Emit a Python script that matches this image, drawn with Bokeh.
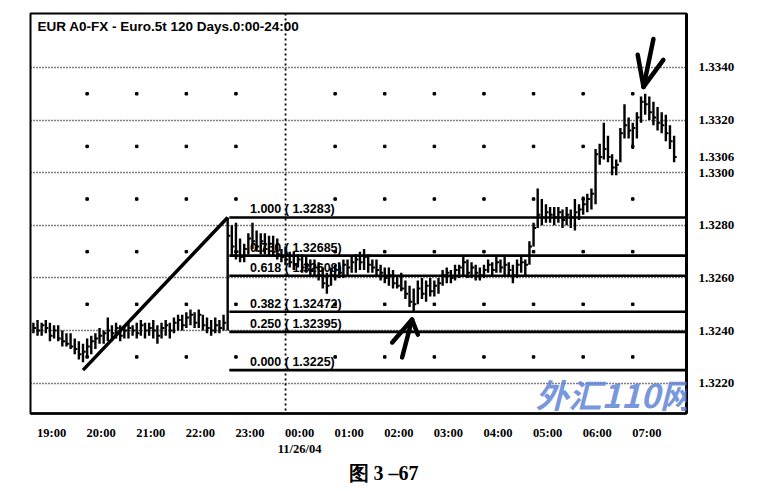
import numpy as np
from bokeh.plotting import figure
from bokeh.models import (FixedTicker, Range1d, Span, Label, NumeralTickFormatter,
                          ColumnDataSource, Title)
from bokeh.embed import file_html
from bokeh.resources import INLINE
from bokeh.core.properties import value

# ---------------- data ----------------
chart_title = "EUR A0-FX - Euro.5t 120 Days.0:00-24:00"
figure_caption = "图 3 –67"
watermark_cn = "外汇110网"

first_bar_minute = -305      # 18:55 (minutes from midnight of 11/26/04)
bar_step_minutes = 5

highs = [
    1.3243, 1.3244, 1.3243, 1.3244, 1.3243, 1.3242, 1.3242, 1.3240, 1.3239, 1.3239,
    1.3237, 1.3236, 1.3235, 1.3237, 1.3238, 1.3239, 1.3241, 1.3240, 1.3245, 1.3242,
    1.3243, 1.3242, 1.3242, 1.3243, 1.3242, 1.3243, 1.3244, 1.3243, 1.3243, 1.3244,
    1.3242, 1.3243, 1.3244, 1.3243, 1.3245, 1.3246, 1.3246, 1.3247, 1.3248, 1.3247,
    1.3248, 1.3246, 1.3245, 1.3244, 1.3245, 1.3244, 1.3246, 1.3283, 1.3280, 1.3281,
    1.3275, 1.3273, 1.3277, 1.3281, 1.3278, 1.3277, 1.3277, 1.3276, 1.3276, 1.3275,
    1.3271, 1.3272, 1.3270, 1.3270, 1.3269, 1.3269, 1.3268, 1.3267, 1.3267, 1.3266,
    1.3264, 1.3262, 1.3264, 1.3265, 1.3266, 1.3267, 1.3267, 1.3268, 1.3269, 1.3270,
    1.3271, 1.3269, 1.3267, 1.3267, 1.3265, 1.3264, 1.3264, 1.3263, 1.3261, 1.3262,
    1.3259, 1.3257, 1.3256, 1.3259, 1.3260, 1.3259, 1.3260, 1.3259, 1.3260, 1.3263,
    1.3264, 1.3263, 1.3265, 1.3265, 1.3268, 1.3267, 1.3266, 1.3265, 1.3264, 1.3265,
    1.3267, 1.3266, 1.3268, 1.3267, 1.3268, 1.3266, 1.3265, 1.3267, 1.3268, 1.3267,
    1.3274, 1.3281, 1.3294, 1.3290, 1.3288, 1.3287, 1.3287, 1.3287, 1.3286, 1.3287,
    1.3286, 1.3290, 1.3288, 1.3291, 1.3292, 1.3294, 1.3309, 1.3311, 1.3319, 1.3314,
    1.3307, 1.3305, 1.3317, 1.3326, 1.3321, 1.3319, 1.3323, 1.3329, 1.3330, 1.3329,
    1.3327, 1.3325, 1.3323, 1.3322, 1.3318, 1.3314,
]
lows = [
    1.3239, 1.3238, 1.3238, 1.3239, 1.3236, 1.3237, 1.3236, 1.3234, 1.3234, 1.3233,
    1.3231, 1.3229, 1.3228, 1.3230, 1.3231, 1.3233, 1.3235, 1.3235, 1.3236, 1.3236,
    1.3237, 1.3236, 1.3237, 1.3237, 1.3238, 1.3237, 1.3238, 1.3237, 1.3238, 1.3237,
    1.3235, 1.3237, 1.3238, 1.3237, 1.3239, 1.3240, 1.3240, 1.3241, 1.3242, 1.3241,
    1.3241, 1.3240, 1.3239, 1.3238, 1.3239, 1.3239, 1.3240, 1.3240, 1.3268, 1.3267,
    1.3266, 1.3266, 1.3269, 1.3271, 1.3270, 1.3269, 1.3269, 1.3268, 1.3268, 1.3267,
    1.3266, 1.3265, 1.3264, 1.3263, 1.3264, 1.3262, 1.3262, 1.3261, 1.3261, 1.3259,
    1.3256, 1.3254, 1.3257, 1.3259, 1.3260, 1.3260, 1.3261, 1.3262, 1.3262, 1.3263,
    1.3263, 1.3262, 1.3262, 1.3261, 1.3259, 1.3258, 1.3257, 1.3256, 1.3256, 1.3255,
    1.3252, 1.3249, 1.3247, 1.3250, 1.3252, 1.3251, 1.3253, 1.3253, 1.3254, 1.3257,
    1.3258, 1.3258, 1.3259, 1.3260, 1.3261, 1.3260, 1.3260, 1.3259, 1.3259, 1.3260,
    1.3262, 1.3261, 1.3262, 1.3262, 1.3261, 1.3261, 1.3258, 1.3260, 1.3262, 1.3261,
    1.3265, 1.3272, 1.3279, 1.3280, 1.3281, 1.3281, 1.3280, 1.3281, 1.3279, 1.3280,
    1.3279, 1.3278, 1.3282, 1.3284, 1.3285, 1.3286, 1.3288, 1.3303, 1.3305, 1.3304,
    1.3299, 1.3299, 1.3304, 1.3313, 1.3313, 1.3309, 1.3313, 1.3319, 1.3322, 1.3320,
    1.3318, 1.3316, 1.3315, 1.3312, 1.3309, 1.3304,
]
closes = [
    1.3241, 1.3240, 1.3242, 1.3241, 1.3238, 1.3240, 1.3237, 1.3236, 1.3235, 1.3234,
    1.3233, 1.3231, 1.3232, 1.3234, 1.3236, 1.3237, 1.3238, 1.3239, 1.3240, 1.3239,
    1.3241, 1.3238, 1.3240, 1.3241, 1.3240, 1.3239, 1.3242, 1.3240, 1.3241, 1.3240,
    1.3238, 1.3241, 1.3242, 1.3240, 1.3243, 1.3244, 1.3242, 1.3245, 1.3246, 1.3243,
    1.3246, 1.3242, 1.3241, 1.3240, 1.3242, 1.3241, 1.3243, 1.3276, 1.3272, 1.3270,
    1.3268, 1.3271, 1.3275, 1.3274, 1.3272, 1.3274, 1.3271, 1.3273, 1.3270, 1.3269,
    1.3268, 1.3267, 1.3266, 1.3265, 1.3267, 1.3264, 1.3265, 1.3263, 1.3264, 1.3261,
    1.3258, 1.3257, 1.3261, 1.3263, 1.3262, 1.3265, 1.3264, 1.3266, 1.3267, 1.3266,
    1.3268, 1.3265, 1.3264, 1.3263, 1.3262, 1.3260, 1.3261, 1.3258, 1.3257, 1.3256,
    1.3254, 1.3251, 1.3250, 1.3256, 1.3254, 1.3257, 1.3255, 1.3257, 1.3258, 1.3261,
    1.3262, 1.3260, 1.3263, 1.3264, 1.3266, 1.3262, 1.3264, 1.3262, 1.3261, 1.3263,
    1.3265, 1.3263, 1.3266, 1.3264, 1.3265, 1.3263, 1.3261, 1.3265, 1.3266, 1.3265,
    1.3272, 1.3279, 1.3284, 1.3283, 1.3285, 1.3284, 1.3283, 1.3285, 1.3282, 1.3284,
    1.3283, 1.3285, 1.3286, 1.3288, 1.3290, 1.3292, 1.3307, 1.3306, 1.3309, 1.3306,
    1.3302, 1.3303, 1.3315, 1.3318, 1.3316, 1.3317, 1.3321, 1.3327, 1.3326, 1.3323,
    1.3321, 1.3319, 1.3318, 1.3315, 1.3312, 1.3306,
]

hour_minutes = [-300, -240, -180, -120, -60, 0, 60, 120, 180, 240, 300, 360, 420]
hour_labels = ["19:00", "20:00", "21:00", "22:00", "23:00", "00:00", "01:00",
               "02:00", "03:00", "04:00", "05:00", "06:00", "07:00"]
date_label = "11/26/04"

price_ticks = [1.3220, 1.3240, 1.3260, 1.3280, 1.3300, 1.3320, 1.3340]
last_price = 1.3306

fib_ratios = [1.000, 0.750, 0.618, 0.382, 0.250, 0.000]
fib_low = 1.3225
fib_high = 1.3283

# ---------------- derived ----------------
n = len(highs)
t = np.array([first_bar_minute + bar_step_minutes * i for i in range(n)], dtype=float)
H = np.array(highs)
L = np.array(lows)
C = np.array(closes)

i_high = int(np.argmax(H[:100]))            # news spike bar (fib 1.000)
i_low = int(np.argmin(L[:i_high]))           # swing low before it (fib 0.000)
i_dip = 60 + int(np.argmin(L[60:120]))       # pull-back low
i_top = int(np.argmax(H))                    # final top

X0, X1 = -308.5, 485.0
Y0, Y1 = 1.32085, 1.33605

p = figure(frame_width=656, frame_height=400,
           x_range=Range1d(X0, X1), y_range=Range1d(Y0, Y1),
           output_backend="svg", toolbar_location=None,
           y_axis_location="right",
           min_border_left=30, min_border_top=13,
           min_border_right=86, min_border_bottom=70,
           background_fill_color="white", border_fill_color="white")
p.outline_line_color = "black"
p.outline_line_width = 2

# x axis (labels sit just right of their hour mark)
label_shift = 17
xticks = [m + label_shift for m in hour_minutes]
overrides = {}
for m, x, lab in zip(hour_minutes, xticks, hour_labels):
    overrides[x] = lab + ("\n" + date_label if m == 0 else "")
xa = p.xaxis[0]
xa.ticker = FixedTicker(ticks=xticks)
xa.major_label_overrides = overrides
xa.axis_line_color = "black"
xa.axis_line_width = 2.5
xa.major_tick_line_color = None
xa.minor_tick_line_color = None
xa.major_label_text_font = "Liberation Serif"
xa.major_label_text_font_style = "bold"
xa.major_label_text_font_size = "12.5px"
xa.major_label_text_color = "black"
xa.major_label_standoff = 6

# right price axis
ya = p.yaxis[0]
ya.ticker = FixedTicker(ticks=sorted(price_ticks + [last_price]))
ya.formatter = NumeralTickFormatter(format="0.0000")
ya.axis_line_color = "black"
ya.axis_line_width = 3
ya.major_tick_line_color = None
ya.minor_tick_line_color = None
ya.major_label_text_font = "Liberation Serif"
ya.major_label_text_font_style = "bold"
ya.major_label_text_font_size = "13px"
ya.major_label_text_color = "black"
ya.major_label_standoff = 6

# grid
p.xgrid.grid_line_color = None
p.ygrid.ticker = FixedTicker(ticks=price_ticks)
p.ygrid.grid_line_color = "black"
p.ygrid.grid_line_dash = "1 2"
p.ygrid.grid_line_width = 1.3
p.add_layout(Span(location=0, dimension="height", line_color="black",
                  line_dash="2 3", line_width=1.8))
half_levels = [(a + b) / 2 for a, b in zip(price_ticks[:-1], price_ticks[1:])]
dx, dy = [], []
for m in hour_minutes[1:]:
    if m == 0:
        continue
    for lv in half_levels:
        dx.append(m)
        dy.append(lv)
p.scatter(dx, dy, marker="square", size=2.5, color="black")

# OHLC-style bars (high-low with close tick)
src = ColumnDataSource(dict(t=t, hi=H, lo=L, cl=C, tc=t + 3.2))
p.segment(x0="t", y0="lo", x1="t", y1="hi", source=src, line_color="black", line_width=2.4)
p.segment(x0="t", y0="cl", x1="tc", y1="cl", source=src, line_color="black", line_width=2)

# trend line from swing low to spike high
p.line([t[i_low], t[i_high]], [fib_low, fib_high], line_color="black", line_width=3.5)

# Fibonacci retracement levels
fib_prices = [fib_low + r * (fib_high - fib_low) for r in fib_ratios]
fib_text = [f"{r:.3f} ( {v:.5f}".rstrip("0") + ")" for r, v in zip(fib_ratios, fib_prices)]
fx0 = t[i_high] + 2
p.segment(x0=[fx0] * len(fib_prices), y0=fib_prices, x1=[X1] * len(fib_prices), y1=fib_prices,
          line_color="black", line_width=2.6)
p.text(x=[fx0 + 25] * len(fib_prices), y=fib_prices, text=fib_text,
       text_font=value("Liberation Sans"), text_font_style="bold", text_font_size="12.5px",
       text_baseline="bottom", text_color="black", y_offset=-1)

# hand-drawn arrows (tails are offsets from the tip: minutes, price)
def arrow(tip_x, tip_y, tails):
    xs = [[tip_x + a, tip_x] for a, b in tails]
    ys = [[tip_y + b, tip_y] for a, b in tails]
    p.multi_line(xs, ys, line_color="black", line_width=4.5, line_cap="round")

arrow(t[i_dip] - 2, L[i_dip] - 0.00028,
      [(-12, -0.00144), (-24, -0.00087), (7, -0.00057)])
arrow(t[i_top] - 2, H[i_top] + 0.00026,
      [(12, 0.00182), (-7, 0.00122), (24, 0.00103)])

# title inside the frame
p.add_layout(Label(x=7, y=387, x_units="screen", y_units="screen", text=chart_title,
                   text_font="Liberation Sans", text_font_style="bold",
                   text_font_size="13.5px", text_baseline="middle", text_color="black"))

# watermark
p.add_layout(Label(x=505, y=20, x_units="screen", y_units="screen", text=watermark_cn,
                   text_font="Noto Sans CJK SC", text_font_style="bold italic",
                   text_font_size="33px", text_baseline="middle",
                   text_color="#5f84d6", text_alpha=0.85))

# caption below the axis
p.add_layout(Title(text=figure_caption, align="left", offset=318, standoff=0,
                   text_font="Liberation Serif", text_font_style="bold",
                   text_font_size="20px", text_color="black"), "below")

open("out.html", "w").write(file_html(p, INLINE))
